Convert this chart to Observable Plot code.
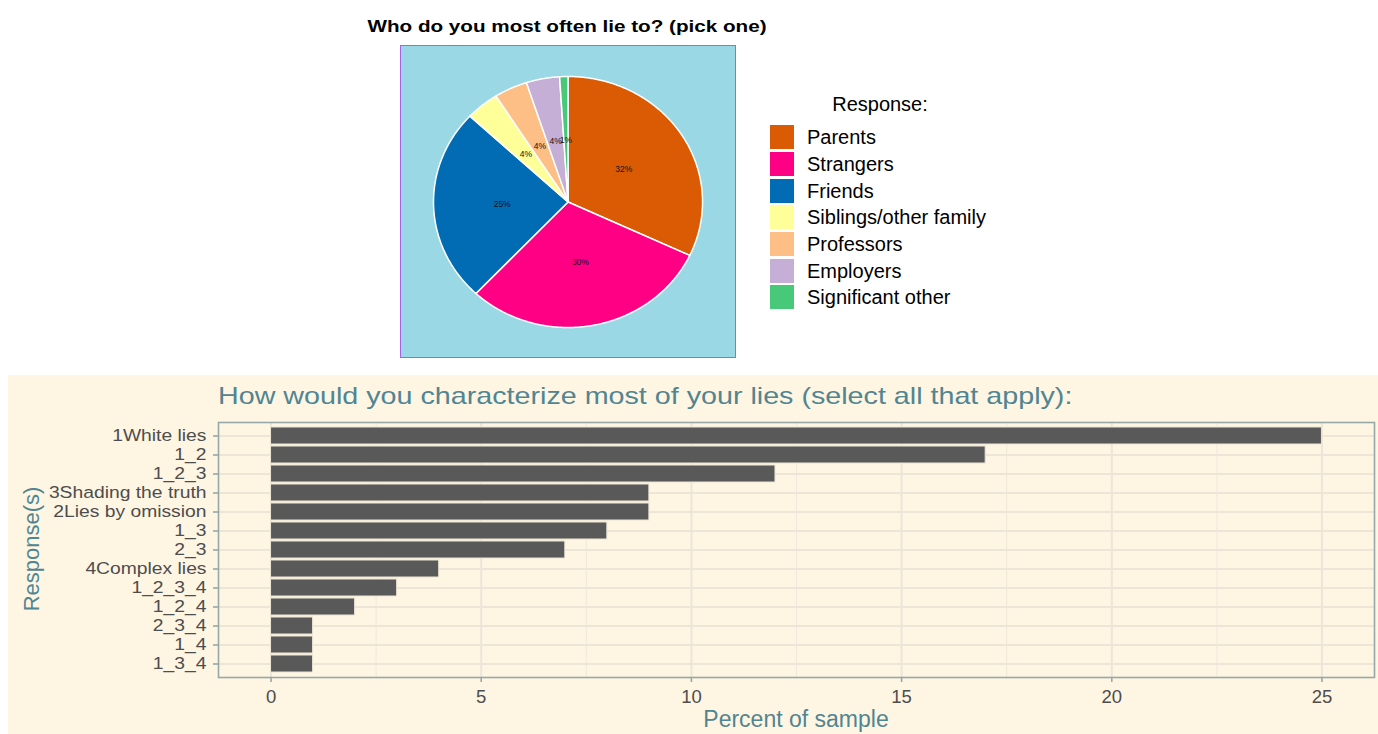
<!DOCTYPE html>
<html><head><meta charset="utf-8">
<script src="https://cdn.jsdelivr.net/npm/d3@7"></script>
<script src="https://cdn.jsdelivr.net/npm/@observablehq/plot@0.6"></script>
<style>
body{margin:0;background:#fff;width:1378px;height:734px;position:relative;overflow:hidden;font-family:"Liberation Sans",Arial,sans-serif;}
.abs{position:absolute;}
.row{display:flex;align-items:center;height:26.67px;}
.sw{width:24px;height:24px;margin-right:13px;}
.lt{font-size:20px;color:#000;line-height:1;}
</style></head><body>
<div class="abs" style="left:267px;top:19px;width:600px;text-align:center;font-weight:bold;font-size:16px;line-height:16px;color:#000;transform:scaleX(1.29);transform-origin:300px 0;">Who do you most often lie to? (pick one)</div>
<div id="pie" class="abs" style="left:400px;top:45px;border:1px solid #A862EA;line-height:0;"></div>
<div id="legend" class="abs" style="left:770px;top:94px;"></div>
<div class="abs" style="left:8px;top:375px;width:1370px;height:359px;background:#FFF5E3;"></div>
<div class="abs" style="left:218px;top:383.5px;font-size:24px;line-height:24px;color:#508591;white-space:nowrap;transform:scaleX(1.195);transform-origin:0 0;">How would you characterize most of your lies (select all that apply):</div>
<div id="bars" class="abs" style="left:8px;top:412px;"></div>
<div class="abs" style="left:596px;top:707.5px;width:400px;text-align:center;font-size:23px;line-height:23px;color:#508591;">Percent of sample</div>
<div class="abs" style="left:-118px;top:538px;width:300px;text-align:center;font-size:22px;line-height:22px;color:#508591;transform:rotate(-90deg);">Response(s)</div>
<script>
// ---- Pie data ----
const pieCats = ["Parents","Strangers","Friends","Siblings/other family","Professors","Employers","Significant other"];
const pieValues = [32, 30, 25, 4, 4, 4, 1];
const pieLabels = ["32%","30%","25%","4%","4%","4%","1%"];
const pieColors = ["#DA5B03","#FF0084","#016CB4","#FFFF99","#FEBF86","#C5AFD6","#48C97A"];

// ---- Bar data ----
const barCats = ["1White lies","1_2","1_2_3","3Shading the truth","2Lies by omission","1_3","2_3","4Complex lies","1_2_3_4","1_2_4","2_3_4","1_4","1_3_4"];
const barValues = [25, 17, 12, 9, 9, 8, 7, 4, 3, 2, 1, 1, 1];
const xMajor = [0, 5, 10, 15, 20, 25];
const xMinor = [2.5, 7.5, 12.5, 17.5, 22.5];

// ---- Pie slices built from the values ----
const total = d3.sum(pieValues);
let acc = 0;
const slicePts = [], labelPts = [];
pieCats.forEach((c, i) => {
  const a0 = acc / total * 2 * Math.PI;
  acc += pieValues[i];
  const a1 = acc / total * 2 * Math.PI;
  const n = Math.max(2, Math.ceil((a1 - a0) / (Math.PI / 360)));
  slicePts.push({cat: c, x: 0, y: 0});
  for (let k = 0; k <= n; k++) {
    const a = a0 + (a1 - a0) * k / n;
    slicePts.push({cat: c, x: Math.sin(a), y: Math.cos(a)});
  }
  slicePts.push({cat: c, x: 0, y: 0});
  const am = (a0 + a1) / 2;
  labelPts.push({cat: c, label: pieLabels[i], x: 0.49 * Math.sin(am), y: 0.49 * Math.cos(am)});
});

const pie = Plot.plot({
  width: 334, height: 311,
  margin: 0,
  x: {domain: [-1.238, 1.245], axis: null},
  y: {domain: [-1.239, 1.239], axis: null},
  color: {domain: pieCats, range: pieColors},
  style: {background: "#9AD8E6", fontFamily: "Liberation Sans, Arial, sans-serif"},
  marks: [
    Plot.line(slicePts, {x: "x", y: "y", z: "cat", fill: "cat", stroke: "white", strokeWidth: 1.5, strokeLinejoin: "round"}),
    Plot.text(labelPts, {x: "x", y: "y", text: "label", fontSize: 8.5, fill: "#111"})
  ]
});
document.getElementById("pie").appendChild(pie);

// ---- Legend ----
const color = pie.scale("color");
const leg = document.getElementById("legend");
const lt = document.createElement("div");
lt.textContent = "Response:";
lt.style.cssText = "font-size:20px;line-height:20px;width:220px;text-align:center;margin-bottom:10px;color:#000;";
leg.appendChild(lt);
pieCats.forEach((c) => {
  const r = document.createElement("div"); r.className = "row";
  const s = document.createElement("div"); s.className = "sw"; s.style.background = pieColors[pieCats.indexOf(c)];
  const t = document.createElement("div"); t.className = "lt"; t.textContent = c;
  r.appendChild(s); r.appendChild(t); leg.appendChild(r);
});

// ---- Bars ----
const barData = barCats.map((c, i) => ({cat: c, v: barValues[i]}));
const bars = Plot.plot({
  width: 1370, height: 322,
  marginLeft: 210, marginRight: 4, marginTop: 10, marginBottom: 57,
  x: {domain: [-1.25, 26.25]},
  y: {type: "band", domain: barCats, paddingInner: 0.1, paddingOuter: 0.15},
  style: {background: "transparent", fontFamily: "Liberation Sans, Arial, sans-serif", overflow: "visible"},
  marks: [
    Plot.ruleX(xMinor, {stroke: "#EFE9DB", strokeWidth: 1}),
    Plot.ruleX(xMajor, {stroke: "#ECE6D8", strokeWidth: 2}),
    Plot.ruleY(barCats, {y: d => d, stroke: "#ECE6D8", strokeWidth: 2}),
    Plot.barX(barData, {x: "v", y: "cat", fill: "#595959", stroke: "#ECE5D5", strokeWidth: 1}),
    Plot.frame({stroke: "#96A8A8", strokeWidth: 1.6}),
    Plot.axisY({tickSize: 5, tickPadding: 7, stroke: "#96A8A8", strokeWidth: 1.6, fill: "#4D4D4D", fontSize: 16.5, label: null}),
    Plot.axisX(xMajor, {tickSize: 5, tickPadding: 7, stroke: "#96A8A8", strokeWidth: 1.6, fill: "#4D4D4D", fontSize: 18.5, label: null})
  ]
});
// widen the y tick labels horizontally about their right-aligned anchor
bars.querySelectorAll('g[aria-label="y-axis tick label"] text').forEach(t => {
  const tr = t.getAttribute("transform") || "";
  t.setAttribute("transform", tr + " scale(1.17,1)");
});
document.getElementById("bars").appendChild(bars);
</script>
</body></html>
